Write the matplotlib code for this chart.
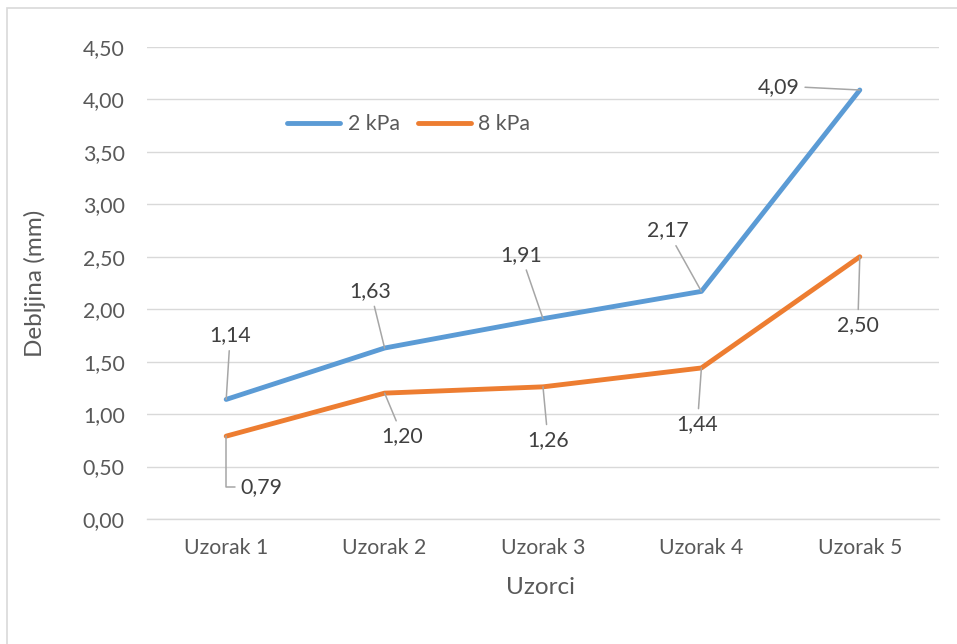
import matplotlib
matplotlib.use("Agg")
import matplotlib.pyplot as plt
from matplotlib.ticker import FuncFormatter, MultipleLocator
from matplotlib.patches import Rectangle

categories = ["Uzorak 1", "Uzorak 2", "Uzorak 3", "Uzorak 4", "Uzorak 5"]
series_2kpa = [1.14, 1.63, 1.91, 2.17, 4.09]
series_8kpa = [0.79, 1.20, 1.26, 1.44, 2.50]
series_names = ["2 kPa", "8 kPa"]
y_label = "Debljina (mm)"
x_label = "Uzorci"

# label offsets (pixels, relative to point)
off_2 = [(4, 64), (-14, 57), (-22, 64), (-34, 61), (-81, 3)]
off_8 = [(35, -51), (18, -43), (5, -53), (-4, -56), (-2, -68)]

plt.rcParams['font.family'] = ['Lato', 'DejaVu Sans']
TXT = '#595959'
LBL = '#404040'
GRID = '#D9D9D9'
BLUE = '#5B9BD5'
ORANGE = '#ED7D31'
LEAD = '#A6A6A6'
FS = 15.3

fig = plt.figure(figsize=(9.57, 6.44), dpi=100)
W, H = 957, 644
ax = fig.add_axes([147 / W, 1 - 519 / H, (939 - 147) / W, (519 - 47) / H])

x = list(range(len(categories)))
ax.plot(x, series_2kpa, color=BLUE, lw=3.5, solid_capstyle='round', solid_joinstyle='round', label=series_names[0], zorder=3)
ax.plot(x, series_8kpa, color=ORANGE, lw=3.5, solid_capstyle='round', solid_joinstyle='round', label=series_names[1], zorder=3)

ax.set_xlim(-0.5, len(categories) - 0.5)
ax.set_ylim(0, 4.5)
ax.yaxis.set_major_locator(MultipleLocator(0.5))
ax.yaxis.set_major_formatter(FuncFormatter(lambda v, p: f"{v:.2f}".replace('.', ',')))
ax.set_xticks(x)
ax.set_xticklabels(categories)
ax.grid(axis='y', color=GRID, lw=1.0)
ax.set_axisbelow(True)
for s in ['top', 'right', 'left']:
    ax.spines[s].set_visible(False)
ax.spines['bottom'].set_color(GRID)
ax.spines['bottom'].set_linewidth(1.0)
ax.tick_params(axis='both', length=0, labelsize=FS, colors=TXT)
ax.tick_params(axis='y', pad=16)
ax.tick_params(axis='x', pad=14)

fig.text(35 / W, 1 - 283 / H, y_label, rotation=90, ha='center', va='center', fontsize=17.5, color=TXT)
fig.text(541 / W, 1 - 588 / H, x_label, ha='center', va='center', fontsize=17.5, color=TXT)

def label(xi, yi, dx, dy, relpos=(0.5, 0.5), conn="arc3"):
    ax.annotate(f"{yi:.2f}".replace('.', ','), xy=(xi, yi), xytext=(dx, dy),
                textcoords='offset pixels', ha='center', va='center',
                fontsize=FS, color=LBL, zorder=5,
                bbox=dict(boxstyle='square,pad=0.25', fc='none', ec='none'),
                arrowprops=dict(arrowstyle='-', color=LEAD, lw=1.1, shrinkA=0, shrinkB=0,
                                relpos=relpos, connectionstyle=conn))

for i, v in enumerate(series_2kpa):
    dx, dy = off_2[i]
    if i == 4:
        label(i, v, dx, dy, relpos=(1.0, 0.5))
    else:
        label(i, v, dx, dy)
for i, v in enumerate(series_8kpa):
    dx, dy = off_8[i]
    if i == 0:
        label(i, v, dx, dy, relpos=(0.0, 0.5), conn="angle,angleA=0,angleB=90,rad=0")
    else:
        label(i, v, dx, dy)

fig.legend(loc='center left', bbox_to_anchor=(287 / W, 1 - 124 / H), bbox_transform=fig.transFigure,
           ncol=2, frameon=False, fontsize=FS, labelcolor=TXT, handlelength=2.5,
           handletextpad=0.35, columnspacing=0.85, borderpad=0, borderaxespad=0)

fig.patches.append(Rectangle((7 / W, -0.1), 1.2, 1 - 8 / H + 0.1, transform=fig.transFigure,
                             fill=False, ec=GRID, lw=1.2))

fig.savefig("out.png", dpi=100)
